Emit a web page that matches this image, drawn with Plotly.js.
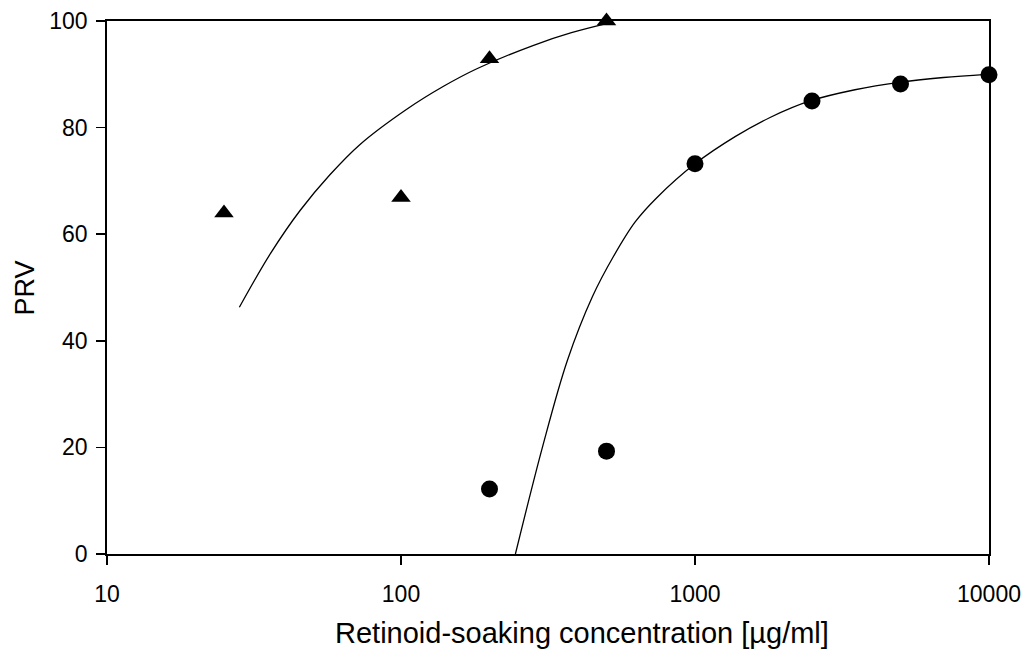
<!DOCTYPE html>
<html>
<head>
<meta charset="utf-8">
<script src="https://cdn.plot.ly/plotly-3.0.1.min.js"></script>
<style>html,body{margin:0;padding:0;background:#fff;}#chart{width:1028px;height:653px;}</style>
</head>
<body>
<div id="chart"></div>
<script>
// Triangle series (observed)
const triX = [25, 100, 200, 500];
const triY = [64.0, 66.9, 92.9, 100.0];
// Circle series (observed)
const circX = [200, 500, 1000, 2500, 5000, 10000];
const circY = [12.2, 19.3, 73.2, 85.0, 88.2, 89.9];
// Fitted curve for triangles
const triFitX = [28.2, 36, 45.3, 57.2, 72.4, 104.3, 140, 180.4, 281, 380, 500];
const triFitY = [46.3, 56.4, 64.4, 71.1, 76.8, 83.4, 87.8, 91.0, 95.4, 97.8, 99.5];
// Fitted curve for circles
const circFitX = [245, 303, 368, 448, 529, 626, 740, 1000, 1369, 1800, 2461, 3500, 4948, 7000, 9812];
const circFitY = [0, 20.1, 36.3, 48.3, 55.9, 62.3, 66.8, 73.2, 78.3, 81.9, 85.0, 87.1, 88.5, 89.4, 90.0];
const xTicks = [10, 100, 1000, 10000];
const xTickText = ['10', '100', '1000', '10000'];
const yTicks = [0, 20, 40, 60, 80, 100];
const xTitle = 'Retinoid-soaking concentration [µg/ml]';
const yTitle = 'PRV';

const FAM = 'Liberation Sans, Arial, sans-serif';
const mkFont = (s) => ({family: FAM, size: s, color: '#000'});

const traces = [
  {x: triFitX, y: triFitY, mode: 'lines', line: {color: '#000', width: 1.3, shape: 'spline', smoothing: 1}, hoverinfo: 'skip', showlegend: false},
  {x: circFitX, y: circFitY, mode: 'lines', line: {color: '#000', width: 1.3, shape: 'spline', smoothing: 1}, hoverinfo: 'skip', showlegend: false},
  {x: triX, y: triY, mode: 'markers', marker: {symbol: 'triangle-up', size: 17, color: '#000'}, cliponaxis: false, showlegend: false},
  {x: circX, y: circY, mode: 'markers', marker: {symbol: 'circle', size: 17, color: '#000'}, cliponaxis: false, showlegend: false}
];

const layout = {
  width: 1028, height: 653,
  margin: {l: 107, r: 39, t: 21, b: 99, pad: 0},
  paper_bgcolor: '#fff', plot_bgcolor: '#fff',
  font: mkFont(23),
  showlegend: false,
  xaxis: {
    type: 'log', range: [1, 4],
    tickmode: 'array', tickvals: xTicks, ticktext: xTickText,
    ticks: 'outside', ticklen: 9, tickwidth: 1.5, tickcolor: '#000',
    ticklabelstandoff: 10,
    showline: true, linecolor: '#000', linewidth: 1.8, mirror: true,
    showgrid: false, zeroline: false,
    tickfont: mkFont(23)
  },
  yaxis: {
    range: [0, 100],
    tickmode: 'array', tickvals: yTicks,
    ticks: 'outside', ticklen: 9, tickwidth: 1.5, tickcolor: '#000',
    ticklabelstandoff: 4,
    showline: true, linecolor: '#000', linewidth: 1.8, mirror: true,
    showgrid: false, zeroline: false,
    tickfont: mkFont(23)
  },
  annotations: [
    {text: xTitle, xref: 'paper', yref: 'paper', x: 0.538, y: -0.148, xanchor: 'center', yanchor: 'middle', showarrow: false, font: mkFont(29)},
    {text: yTitle, xref: 'paper', yref: 'paper', x: -0.093, y: 0.5, xanchor: 'center', yanchor: 'middle', textangle: -90, showarrow: false, font: mkFont(27)}
  ]
};

Plotly.newPlot('chart', traces, layout, {displayModeBar: false, staticPlot: true});
</script>
</body>
</html>
